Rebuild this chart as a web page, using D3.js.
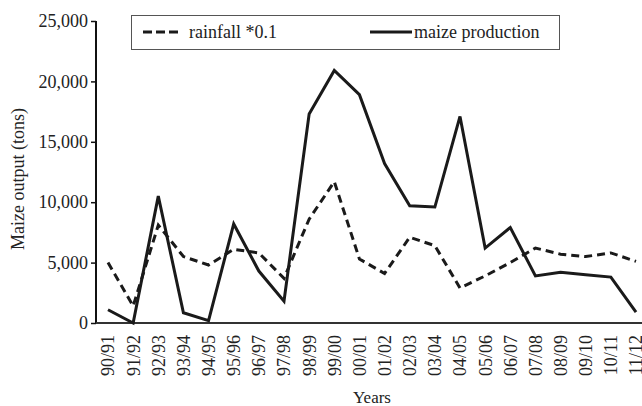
<!DOCTYPE html>
<html>
<head>
<meta charset="utf-8">
<script src="https://cdn.jsdelivr.net/npm/d3@7"></script>
<style>
  body { margin: 0; background: #fff; }
  svg text { font-family: "Liberation Serif", "Times New Roman", serif; fill: #222; }
</style>
</head>
<body>
<svg id="chart" width="642" height="406"></svg>
<script>
const years = ['90/91','91/92','92/93','93/94','94/95','95/96','96/97','97/98','98/99','99/00','00/01',
  '01/02','02/03','03/04','04/05','05/06','06/07','07/08','08/09','09/10','10/11','11/12'];
const rainfall = [5000, 1400, 8100, 5500, 4800, 6100, 5800, 3700, 8600, 11700, 5300,
  4100, 7100, 6400, 2900, 3900, 5000, 6200, 5700, 5500, 5800, 5100];
const maize = [1100, 0, 10500, 850, 200, 8200, 4300, 1800, 17300, 20900, 18900,
  13200, 9700, 9600, 17100, 6200, 7900, 3900, 4200, 4000, 3800, 900];
const yTicks = [0, 5000, 10000, 15000, 20000, 25000];

const svg = d3.select('#chart');

const x = d3.scalePoint()
  .domain(years)
  .range([108, 636]);

const y = d3.scaleLinear()
  .domain([0, 25000])
  .range([323, 21]);

// y axis
const yAxis = svg.append('g')
  .attr('transform', 'translate(96,0)')
  .call(d3.axisLeft(y).tickValues(yTicks).tickSize(5).tickPadding(3)
    .tickFormat(d3.format(',')));
yAxis.select('.domain').attr('stroke', '#111').attr('stroke-width', 2)
  .attr('d', 'M0,21V323');
yAxis.selectAll('.tick line').attr('stroke', '#111').attr('stroke-width', 1.5);
yAxis.selectAll('.tick text').attr('font-size', '18px').attr('fill', '#222');

// x axis
const xAxis = svg.append('g')
  .attr('transform', 'translate(0,323)')
  .call(d3.axisBottom(x).tickSize(0).tickPadding(0));
xAxis.select('.domain').attr('stroke', '#333').attr('stroke-width', 2)
  .attr('d', 'M96,0H642');
xAxis.selectAll('.tick text')
  .attr('font-size', '18px')
  .attr('fill', '#222')
  .attr('transform', 'rotate(-90)')
  .attr('text-anchor', 'end')
  .attr('x', -12)
  .attr('y', 0)
  .attr('dy', '0.33em');

// lines
const line = d3.line()
  .x((d, i) => x(years[i]))
  .y(d => y(d));

svg.append('path')
  .datum(rainfall)
  .attr('fill', 'none')
  .attr('stroke', '#1a1a1a')
  .attr('stroke-width', 3)
  .attr('stroke-dasharray', '8,5')
  .attr('d', line);

svg.append('path')
  .datum(maize)
  .attr('fill', 'none')
  .attr('stroke', '#1a1a1a')
  .attr('stroke-width', 3)
  .attr('stroke-linejoin', 'miter')
  .attr('d', line);

// legend
const legend = svg.append('g');
legend.append('rect')
  .attr('x', 131.5).attr('y', 15.5)
  .attr('width', 428).attr('height', 34)
  .attr('fill', '#fff')
  .attr('stroke', '#555')
  .attr('stroke-width', 1);
legend.append('line')
  .attr('x1', 143).attr('x2', 180).attr('y1', 32).attr('y2', 32)
  .attr('stroke', '#1a1a1a').attr('stroke-width', 3)
  .attr('stroke-dasharray', '9,4');
legend.append('text')
  .attr('x', 189).attr('y', 38)
  .attr('font-size', '18px')
  .text('rainfall *0.1');
legend.append('line')
  .attr('x1', 370).attr('x2', 412).attr('y1', 32).attr('y2', 32)
  .attr('stroke', '#1a1a1a').attr('stroke-width', 3);
legend.append('text')
  .attr('x', 414).attr('y', 38)
  .attr('font-size', '18px')
  .text('maize production');

// axis titles
svg.append('text')
  .attr('transform', 'translate(24,179) rotate(-90)')
  .attr('text-anchor', 'middle')
  .attr('font-size', '18px')
  .text('Maize output (tons)');

svg.append('text')
  .attr('x', 372)
  .attr('y', 403)
  .attr('text-anchor', 'middle')
  .attr('font-size', '17px')
  .text('Years');
</script>
</body>
</html>
